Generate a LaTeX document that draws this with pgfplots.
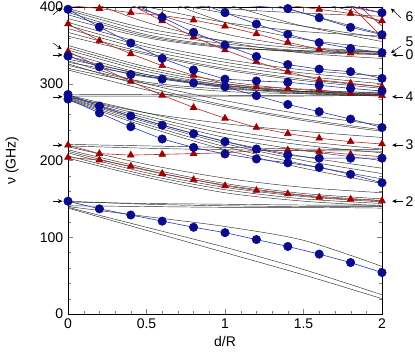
\documentclass[border=0pt]{standalone}
\usepackage{fontspec}
\setmainfont{Liberation Sans}
\usepackage{pgfplots}
\pgfplotsset{compat=1.18}
\usetikzlibrary{arrows.meta}
\definecolor{bmark}{RGB}{10,10,140}
\definecolor{bline}{RGB}{40,50,180}
\definecolor{rmark}{RGB}{160,0,0}
\definecolor{rline}{RGB}{175,40,40}
\definecolor{gline}{RGB}{45,45,45}
\begin{document}
\fontsize{14}{16}\selectfont
\begin{tikzpicture}
\path[use as bounding box] (-68pt,-44pt) rectangle (347pt,314pt);
\begin{axis}[
  scale only axis, width=314pt, height=307pt,
  xmin=0, xmax=2, ymin=0, ymax=400,
  xtick={0,0.5,1,1.5,2}, ytick={0,100,200,300,400},
  minor x tick num=4, minor y tick num=4,
  tick align=inside, major tick length=5pt, minor tick length=3pt,
  /pgf/number format/assume math mode=true,
  tick label style={font=\fontsize{14}{16}\selectfont},
  label style={font=\fontsize{14}{16}\selectfont},
  xlabel={d/R}, ylabel={ν (GHz)},
  xlabel style={at={(axis description cs:0.5,-0.088)}, anchor=center},
  ylabel style={at={(axis description cs:-0.178,0.5)}, anchor=center},
  clip mode=individual,
  gl/.style={gline, line width=0.45pt, smooth, mark=none},
  bl/.style={bline, line width=0.6pt, mark=*, mark size=4.2pt, mark options={fill=bmark, draw=bmark}},
  rd/.style={rline, line width=0.6pt, mark=triangle*, mark size=3.9pt, mark options={fill=rmark, draw=rmark}},
  be/.style={bline, line width=0.6pt, mark=none},
  re/.style={rline, line width=0.6pt, mark=none},
]
% ---- gray lines (x = 0, 0.5, 1, 1.5, 2) ----
\addplot[gl] coordinates {(0,147) (0.5,143) (1,141) (1.5,140) (2,140)};
\addplot[gl] coordinates {(0,146) (0.5,144) (1,143) (1.5,142) (2,142)};
\addplot[gl] coordinates {(0,141) (0.5,140) (1,139) (1.5,139) (2,138)};
\addplot[gl] coordinates {(0,140) (0.5,127) (1,114) (1.5,96) (2,62)};
\addplot[gl] coordinates {(0,139) (0.5,113) (1,87) (1.5,58) (2,25)};
\addplot[gl] coordinates {(0,138) (0.5,109) (1,80) (1.5,51) (2,20)};
\addplot[gl] coordinates {(0,218) (0.5,195) (1,177) (1.5,165) (2,158)};
\addplot[gl] coordinates {(0,214) (0.5,190) (1,170) (1.5,157) (2,150)};
\addplot[gl] coordinates {(0,212) (0.5,187) (1,168) (1.5,155) (2,148)};
\addplot[gl] coordinates {(0,210) (0.5,184) (1,165) (1.5,153) (2,146)};
\addplot[gl] coordinates {(0,206) (0.5,181) (1,162) (1.5,150) (2,144)};
\addplot[gl] coordinates {(0,203) (0.5,178) (1,158) (1.5,147) (2,141)};
\addplot[gl] coordinates {(0,221) (0.5,219) (1,217) (1.5,215) (2,214)};
\addplot[gl] coordinates {(0,219) (0.5,216) (1,214) (1.5,213) (2,212)};
\addplot[gl] coordinates {(0,285) (0.5,262) (1,240) (1.5,225) (2,215)};
\addplot[gl] coordinates {(0,284) (0.5,258) (1,235) (1.5,220) (2,210)};
\addplot[gl] coordinates {(0,283) (0.5,255) (1,230) (1.5,213) (2,200)};
\addplot[gl] coordinates {(0,282) (0.5,252) (1,225) (1.5,205) (2,190)};
\addplot[gl] coordinates {(0,281) (0.5,250) (1,222) (1.5,200) (2,183)};
\addplot[gl] coordinates {(0,280) (0.5,247) (1,218) (1.5,195) (2,176)};
\addplot[gl] coordinates {(0,279) (0.5,244) (1,214) (1.5,190) (2,170)};
\addplot[gl] coordinates {(0,283) (0.5,262) (1,248) (1.5,238) (2,230)};
\addplot[gl] coordinates {(0,286) (0.5,286) (1,285) (1.5,285) (2,285)};
\addplot[gl] coordinates {(0,284) (0.5,284) (1,284) (1.5,284) (2,285)};
\addplot[gl] coordinates {(0,330) (0.5,300) (1,278) (1.5,260) (2,246)};
\addplot[gl] coordinates {(0,326) (0.5,296) (1,272) (1.5,254) (2,240)};
\addplot[gl] coordinates {(0,318) (0.5,292) (1,270) (1.5,252) (2,238)};
\addplot[gl] coordinates {(0,350) (0.5,322) (1,303) (1.5,292) (2,288)};
\addplot[gl] coordinates {(0,347) (0.5,319) (1,300) (1.5,290) (2,286)};
\addplot[gl] coordinates {(0,344) (0.5,316) (1,298) (1.5,289) (2,285)};
\addplot[gl] coordinates {(0,340) (0.5,312) (1,296) (1.5,288) (2,284)};
\addplot[gl] coordinates {(0,336) (0.5,310) (1,295) (1.5,287) (2,284)};
\addplot[gl] coordinates {(0,332) (0.5,312) (1,298) (1.5,290) (2,286)};
\addplot[gl] coordinates {(0,328) (0.5,310) (1,297) (1.5,290) (2,287)};
\addplot[gl] coordinates {(0,324) (0.5,302) (1,293) (1.5,290) (2,289)};
\addplot[gl] coordinates {(0,320) (0.5,300) (1,290) (1.5,287) (2,286)};
\addplot[gl] coordinates {(0,380) (0.5,352) (1,332) (1.5,318) (2,310)};
\addplot[gl] coordinates {(0,376) (0.5,348) (1,328) (1.5,314) (2,305)};
\addplot[gl] coordinates {(0,372) (0.5,344) (1,324) (1.5,310) (2,300)};
\addplot[gl] coordinates {(0,367) (0.5,340) (1,320) (1.5,306) (2,296)};
\addplot[gl] coordinates {(0,362) (0.5,338) (1,318) (1.5,304) (2,294)};
\addplot[gl] coordinates {(0,398) (0.5,372) (1,356) (1.5,346) (2,341)};
\addplot[gl] coordinates {(0,396) (0.5,368) (1,352) (1.5,343) (2,339)};
\addplot[gl] coordinates {(0,393) (0.5,364) (1,349) (1.5,341) (2,338)};
\addplot[gl] coordinates {(0,390) (0.5,362) (1,348) (1.5,342) (2,340)};
\addplot[gl] coordinates {(0,385) (0.5,360) (1,347) (1.5,343) (2,342)};
\addplot[gl] coordinates {(0.1,410) (0.5,380) (1,355) (1.5,340) (2,333)};
\addplot[gl] coordinates {(0.2,410) (0.5,400) (1,380) (1.5,368) (2,362)};
\addplot[gl] coordinates {(0.3,410) (0.5,395) (1,365) (1.5,348) (2,342)};
\addplot[gl] coordinates {(0.5,410) (1,392) (1.5,375) (2,360)};
\addplot[gl] coordinates {(0.6,410) (1,380) (1.5,358) (2,346)};
\addplot[gl] coordinates {(0.9,410) (1.2,392) (1.5,375) (2,355)};
\addplot[gl] coordinates {(1.2,410) (1.5,392) (2,365)};
\addplot[gl] coordinates {(1.5,410) (1.8,395) (2,380)};
\addplot[gl] coordinates {(0.4,410) (1,398) (1.5,392) (2,388)};
% ---- red series ----
\addplot[re] coordinates {(0,402) (0.2,398)};
\addplot[re] coordinates {(0.4,403) (0.6,382)};
\addplot[re] coordinates {(1.3,405) (1.6,397)};
\addplot[re] coordinates {(1.8,402) (2,361)};
\addplot[re] coordinates {(1.85,402) (2,375)};
\addplot[re] coordinates {(1.75,402) (2,392)};
\addplot[rd] coordinates {(0,204) (0.2,200.6) (0.4,192.5) (0.6,183) (0.8,175) (1,167) (1.2,161) (1.4,156.5) (1.6,152) (1.8,149.5) (2,147.5)};
\addplot[rd] coordinates {(0,220) (0.2,209) (0.4,207) (0.6,208) (0.8,209) (1,210) (1.2,212.8) (1.4,213.7) (1.6,211.5) (1.8,208) (2,205)};
\addplot[rd] coordinates {(0,342) (0.2,322) (0.4,303) (0.6,285) (0.8,269) (1,255) (1.2,243) (1.4,235) (1.6,229) (1.8,224.5) (2,221.5)};
\addplot[rd] coordinates {(0,378) (0.2,356) (0.4,339) (0.6,323.5) (0.8,311) (1,300) (1.2,296) (1.4,294) (1.6,292) (1.8,287.5) (2,284.5)};
\addplot[rd] coordinates {(0.2,398) (0.4,392.6) (0.6,389) (0.8,383) (1,375) (1.2,365) (1.4,354) (1.6,345) (1.8,340) (2,337.5)};
\addplot[rd] coordinates {(0.6,382) (0.8,361) (1,344) (1.2,328.7) (1.4,315.7) (1.6,305) (1.8,300.6) (2,296)};
\addplot[rd] coordinates {(1.6,397) (1.8,391.6) (2,382)};
\addplot[rd] coordinates {(2,361)};
% ---- blue series ----
\addplot[be] coordinates {(0.4,406) (0.6,386.5)};
\addplot[be] coordinates {(1.0,404) (1.2,401)};
\addplot[be] coordinates {(0.8,408) (1.0,392.6)};
\addplot[be] coordinates {(1.6,410) (2,392.6)};
\addplot[bl] coordinates {(0,147) (0.2,137) (0.4,129) (0.6,121) (0.8,113) (1,106) (1.2,97) (1.4,88) (1.6,78) (1.8,67) (2,54)};
\addplot[bl] coordinates {(0,280) (0.2,262) (0.4,244) (0.6,228) (0.8,217) (1,208.5) (1.2,202) (1.4,197) (1.6,191) (1.8,182) (2,171)};
\addplot[bl] coordinates {(0,286) (0.2,271) (0.4,258) (0.6,246) (0.8,235) (1,224.5) (1.2,215) (1.4,207) (1.6,203) (1.8,203) (2,203)};
\addplot[bl] coordinates {(0,336) (0.2,322) (0.4,312) (0.6,306) (0.8,301) (1,296) (1.2,284.5) (1.4,273) (1.6,263.6) (1.8,254) (2,243)};
\addplot[bl] coordinates {(0,397) (0.2,374) (0.4,353) (0.6,333) (0.8,318) (1,306) (1.2,303.6) (1.4,302) (1.6,298) (1.8,294) (2,290.5)};
\addplot[bl] coordinates {(0.6,386.5) (0.8,367) (1,350.5) (1.2,335.5) (1.4,325) (1.6,319) (1.8,315.7) (2,307)};
\addplot[bl] coordinates {(1.2,401) (1.4,398) (1.6,386) (1.8,373.5) (2,364)};
\addplot[bl] coordinates {(1,392.6) (1.2,377.8) (1.4,364.4) (1.6,353.6) (1.8,346) (2,340.5)};
\addplot[bl] coordinates {(2,392.6)};
% ---- annotations ----
\begin{scope}[line width=0.5pt, -{Stealth[length=4.5pt,width=4pt]}]
\draw (axis cs:-0.095,390) -- (axis cs:-0.04,399.5);
\draw (axis cs:-0.095,353) -- (axis cs:-0.04,345);
\draw (axis cs:-0.095,337.5) -- (axis cs:-0.035,337.5);
\draw (axis cs:-0.095,283) -- (axis cs:-0.035,283);
\draw (axis cs:-0.095,220) -- (axis cs:-0.035,220);
\draw (axis cs:-0.095,147) -- (axis cs:-0.035,147);
\draw (axis cs:2.12,386) -- (axis cs:2.057,398);
\draw (axis cs:2.12,349) -- (axis cs:2.057,340);
\draw (axis cs:2.134,337.5) -- (axis cs:2.065,337.5);
\draw (axis cs:2.134,283) -- (axis cs:2.065,283);
\draw (axis cs:2.134,220) -- (axis cs:2.065,220);
\draw (axis cs:2.134,147) -- (axis cs:2.065,147);
\end{scope}
\node[inner sep=0pt] at (axis cs:2.175,388) {6};
\node[inner sep=0pt] at (axis cs:2.175,354.5) {5};
\node[inner sep=0pt] at (axis cs:2.175,337.5) {0};
\node[inner sep=0pt] at (axis cs:2.175,283) {4};
\node[inner sep=0pt] at (axis cs:2.175,220) {3};
\node[inner sep=0pt] at (axis cs:2.175,147) {2};
\end{axis}
\end{tikzpicture}
\end{document}
